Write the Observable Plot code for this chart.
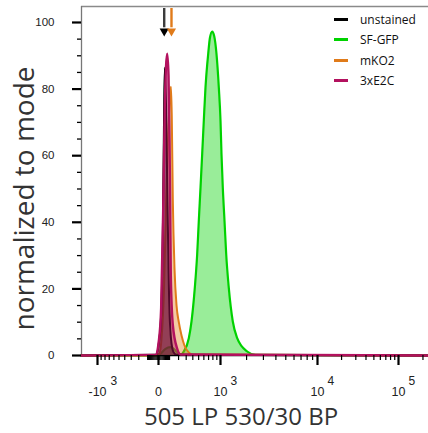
<!DOCTYPE html>
<html><head><meta charset="utf-8">
<script src="https://cdn.jsdelivr.net/npm/d3@7"></script>
<script src="https://cdn.jsdelivr.net/npm/@observablehq/plot@0.6"></script>
<style>
html,body{margin:0;padding:0;background:#fff;}
#wrap{position:relative;width:428px;height:433px;overflow:hidden;}
#legend{position:absolute;left:334px;top:9px;font-family:"Open Sans",sans-serif;font-size:12px;color:#111;}
.row{display:flex;align-items:center;height:20.5px;white-space:nowrap;}
.sw{width:14px;height:3px;margin-right:12px;}
</style></head><body><div id="wrap"></div>
<script>
// ---- data (fluorescence values on x, % of mode on y) ----
const xMin = -1570, xMax = 234000;
const seriesNames = ["unstained", "SF-GFP", "mKO2", "3xE2C"];
const seriesColors = ["#000000", "#00d200", "#e07b1a", "#b3115e"];

const unstainedX = [-1570, -21, 4, 23, 38, 47, 54, 66, 80, 95, 115, 142, 176, 234000];
const unstainedY = [0, 0.2, 4, 13, 40, 70, 86.4, 75, 45, 18, 5, 1, 0.2, 0];

const sfgfpX = [-1570, -25, 16, 61, 110, 153, 199, 237, 267, 338, 379, 433, 474, 503, 535, 567, 599, 634, 692, 732, 784, 835, 891, 953, 1000, 1029, 1068, 1121, 1175, 1262, 1405, 1577, 2031, 2486, 234000];
const sfgfpY = [0, 0, 0.5, 2, 2.5, 1.8, 0.5, 0.4, 1.2, 5.2, 10.2, 20.3, 30.4, 40.4, 50.4, 60.5, 70.5, 80.5, 90.6, 95.5, 97.3, 95.8, 90.6, 80.5, 70.5, 60.5, 50.4, 40.4, 30.4, 20.3, 10.2, 5.2, 1.2, 0.2, 0];

const mko2X = [-1570, -25, 8, 25, 47, 66, 85, 105, 115, 123, 134, 153, 176, 203, 237, 276, 333, 395, 234000];
const mko2Y = [0, 0, 0.5, 5, 20, 45, 65, 78, 80.7, 72, 47, 26, 15, 10, 6, 3, 1, 0.3, 0];

const e2cX = [-1570, -25, 2, 22, 40, 54, 77, 90, 100, 107, 113, 134, 184, 224, 234000];
const e2cY = [0, 0.2, 4.2, 14.3, 44.4, 74.5, 90.6, 84, 64, 44, 24, 9.3, 2, 0.3, 0];

const arrowX = [49, 120];
const arrowColors = ["#3c3c3c", "#e07b1a"];
const arrowHeadColors = ["#000000", "#e07b1a"];

const yMajor = [0, 20, 40, 60, 80, 100];
const yMinor = [5, 10, 15, 25, 30, 35, 45, 50, 55, 65, 70, 75, 85, 90, 95];
const xMajor = [-1000, 0, 1000, 10000, 100000];
const xLabelBase = ["-10", "0", "10", "10", "10"];
const xLabelExp = ["3", "", "3", "4", "5"];
const xMinor = [-900, -800, -700, -600, -500, -400, -300, -200, -100, -90, -80, -70, -60, -50, -40, -30, -20, -10,
  10, 20, 30, 40, 50, 60, 70, 80, 90, 100, 200, 300, 400, 500, 600, 700, 800, 900,
  2000, 3000, 4000, 5000, 6000, 7000, 8000, 9000,
  20000, 30000, 40000, 50000, 60000, 70000, 80000, 90000, 200000];

const yTop = 104.8;

function toRows(xs, ys) { return xs.map((x, i) => ({x, y: ys[i]})); }
const seriesData = [toRows(unstainedX, unstainedY), toRows(sfgfpX, sfgfpY), toRows(mko2X, mko2Y), toRows(e2cX, e2cY)];
const drawOrder = [1, 2, 0, 3];
const fillOps = [0.5, 0.4, 0.4, 0.45];
const lineWidths = [2, 2.2, 2, 2.4];

const seriesMarks = [];
for (const k of drawOrder) {
  seriesMarks.push(Plot.areaY(seriesData[k], {x: "x", y: "y", curve: "monotone-x", fill: seriesColors[k], fillOpacity: fillOps[k]}));
  seriesMarks.push(Plot.lineY(seriesData[k], {x: "x", y: "y", curve: "monotone-x", stroke: seriesColors[k], strokeWidth: lineWidths[k]}));
}

const arrows = arrowX.map((x, i) => ({x, c: arrowColors[i], h: arrowHeadColors[i]}));
const negIdx = xMajor.map((d, i) => i).filter(i => xMajor[i] < 0);
const posIdx = xMajor.map((d, i) => i).filter(i => xMajor[i] > 0);

const chart = Plot.plot({
  width: 428, height: 433,
  marginLeft: 81, marginRight: 0, marginTop: 6, marginBottom: 78,
  x: {type: "symlog", constant: 400, domain: [xMin, -1000, 0, 1000, 10000, 100000, xMax], range: [81, 97, 158, 220, 317, 398, 428]},
  y: {domain: [0, yTop]},
  style: {fontFamily: "'Liberation Sans', Arial, sans-serif", background: "white", color: "black"},
  marks: [
    Plot.ruleY([yTop], {stroke: "#8a8a8a", strokeWidth: 1.5}),
    Plot.ruleX([xMin], {stroke: "#777", strokeWidth: 1.3}),
    Plot.ruleY([0], {stroke: "#000", strokeWidth: 1.5}),
    ...seriesMarks,
    Plot.ruleX(arrows, {x: "x", y1: 104.2, y2: 98.4, stroke: "c", strokeWidth: 2.4}),
    Plot.dot(arrows, {x: "x", y: 97.4, symbol: "triangle", rotate: 180, r: 3.4, fill: "h", stroke: "none"}),
    Plot.axisY(yMajor, {tickSize: 9, strokeWidth: 2.2, tickPadding: 18, fontSize: 11.5, fill: "#222", label: null}),
    Plot.axisY(yMinor, {tickSize: 4, strokeWidth: 1.3, fill: "none", label: null}),
    Plot.axisX(xMajor, {tickSize: 10, strokeWidth: 2.2, fill: "none", label: null}),
    Plot.axisX(xMinor, {tickSize: 5, strokeWidth: 1.2, fill: "none", label: null}),
    Plot.text(xMajor, {x: d => d, text: (d, i) => xLabelBase[i], frameAnchor: "bottom", lineAnchor: "middle", textAnchor: "middle", dy: 36, fontSize: 12.5, fill: "#222"}),
    Plot.text(negIdx, {x: i => xMajor[i], text: i => xLabelExp[i], frameAnchor: "bottom", lineAnchor: "middle", textAnchor: "start", dx: 13, dy: 26, fontSize: 12, fill: "#222"}),
    Plot.text(posIdx, {x: i => xMajor[i], text: i => xLabelExp[i], frameAnchor: "bottom", lineAnchor: "middle", textAnchor: "start", dx: 10, dy: 26, fontSize: 12, fill: "#222"}),
    Plot.text(["505 LP 530/30 BP"], {frameAnchor: "bottom", lineAnchor: "middle", textAnchor: "middle", dx: -14, dy: 61.5, fontSize: 24, fontFamily: "Open Sans", fill: "#333"}),
    Plot.text(["normalized to mode"], {frameAnchor: "left", lineAnchor: "middle", textAnchor: "middle", rotate: -90, dx: -56, dy: 17.5, fontSize: 28, fontFamily: "Open Sans", fill: "#333"})
  ]
});

const wrap = document.getElementById("wrap");
wrap.appendChild(chart);
const legend = document.createElement("div");
legend.id = "legend";
seriesNames.forEach((n, i) => {
  const row = document.createElement("div");
  row.className = "row";
  const sw = document.createElement("span");
  sw.className = "sw";
  sw.style.background = seriesColors[i];
  const t = document.createElement("span");
  t.textContent = n;
  row.appendChild(sw); row.appendChild(t);
  legend.appendChild(row);
});
wrap.appendChild(legend);
</script></body></html>
